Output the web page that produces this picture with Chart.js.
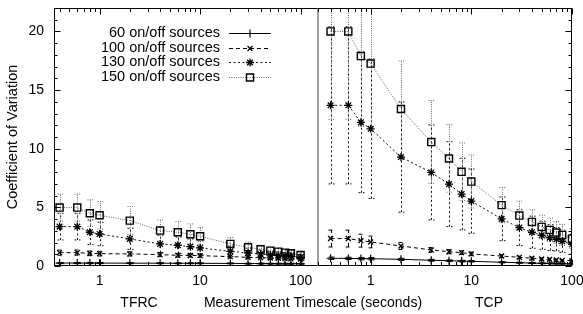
<!DOCTYPE html>
<html><head><meta charset="utf-8">
<script src="https://cdn.jsdelivr.net/npm/chart.js@4.4.1/dist/chart.umd.min.js"></script>
<style>
html,body{margin:0;padding:0;background:#fff;}
#wrap{position:relative;width:583px;height:314px;background:#fff;}
canvas{position:absolute;left:0;top:0;}
</style></head><body>
<div id="wrap"><canvas id="c1" width="583" height="314"></canvas><canvas id="c2" width="583" height="314"></canvas></div>
<script>
// ---------- data ----------
const timescales = [0.4,0.6,0.8,1,2,4,6,8,10,20,30,40,50,60,70,80,100];
const seriesNames = ['60 on/off sources','100 on/off sources','130 on/off sources','150 on/off sources'];
const panelNames = ['TFRC','TCP'];
const xAxisTitle = 'Measurement Timescale (seconds)';
const yAxisTitle = 'Coefficient of Variation';
const yTickValues = [0,5,10,15,20];
const xTickValues = [1,10,100];

const tfrc60     = [0.25,0.25,0.25,0.25,0.24,0.24,0.23,0.23,0.23,0.22,0.21,0.21,0.20,0.20,0.20,0.20,0.19];
const tfrc60Err  = [0.05,0.05,0.05,0.05,0.05,0.05,0.04,0.04,0.04,0.04,0.04,0.04,0.04,0.04,0.04,0.04,0.04];
const tfrc100    = [1.14,1.14,1.08,1.05,1.03,0.97,0.91,0.90,0.88,0.80,0.74,0.71,0.68,0.66,0.64,0.62,0.60];
const tfrc100Err = [0.22,0.22,0.20,0.20,0.18,0.17,0.16,0.15,0.15,0.13,0.12,0.11,0.10,0.10,0.10,0.10,0.09];
const tfrc130    = [3.36,3.36,2.88,2.73,2.31,1.88,1.77,1.65,1.54,1.25,1.11,1.03,0.94,0.90,0.87,0.85,0.74];
const tfrc130Err = [1.14,1.14,1.05,1.00,0.90,0.75,0.70,0.65,0.60,0.45,0.40,0.35,0.30,0.30,0.28,0.27,0.25];
const tfrc150    = [4.98,4.98,4.50,4.33,3.87,3.02,2.88,2.71,2.54,1.88,1.60,1.42,1.31,1.22,1.14,1.08,0.94];
const tfrc150Err = [1.15,1.15,1.14,1.17,1.20,0.90,0.90,0.88,0.73,0.54,0.45,0.35,0.30,0.28,0.27,0.26,0.25];

const tcp60      = [0.66,0.65,0.63,0.62,0.57,0.49,0.45,0.42,0.40,0.32,0.28,0.25,0.23,0.22,0.21,0.20,0.18];
const tcp60Err   = [0.10,0.10,0.10,0.10,0.09,0.08,0.07,0.07,0.06,0.05,0.05,0.04,0.04,0.04,0.04,0.04,0.04];
const tcp100     = [2.34,2.34,2.16,2.05,1.71,1.37,1.22,1.14,1.03,0.85,0.74,0.66,0.60,0.57,0.51,0.48,0.45];
const tcp100Err  = [0.72,0.72,0.55,0.50,0.30,0.20,0.18,0.16,0.15,0.12,0.10,0.10,0.09,0.09,0.08,0.08,0.08];
const tcp130     = [13.7,13.7,12.25,11.7,9.29,7.98,6.98,6.13,5.53,4.02,3.27,2.88,2.62,2.42,2.28,2.11,1.85];
const tcp130Err  = [6.7,6.7,6.0,5.95,4.7,4.05,3.62,3.05,2.74,1.86,1.53,1.37,1.20,1.10,1.00,0.95,0.85];
const tcp150     = [20.0,20.0,17.9,17.26,13.39,10.57,9.17,8.03,7.20,5.19,4.30,3.76,3.33,3.08,2.85,2.65,2.33];
const tcp150Err  = [7.5,7.5,6.0,5.5,4.1,3.53,2.88,2.46,2.26,1.50,1.23,1.03,1.00,1.00,0.94,0.90,0.85];

// ---------- styles ----------
const FONT = 'Liberation Sans, Arial, Helvetica, sans-serif';
const styles = [
  {color:'#000', dash:[],     point:'cross',    radius:4,   pw:1.2},
  {color:'#000', dash:[4,3],  point:'crossRot', radius:3.5, pw:1.3},
  {color:'#111', dash:[2,2.5],point:'star',     radius:4,   pw:1.3},
  {color:'#666', dash:[1,1.3],point:'rect',     radius:5,   pw:1.4}
];

function makeDatasets(vals, errs){
  return vals.map((v,si)=>({
    label: seriesNames[si],
    data: timescales.map((t,i)=>({x:t, y:v[i]})),
    errors: errs[si],
    borderColor: styles[si].color,
    borderDash: styles[si].dash,
    borderWidth: 1,
    pointStyle: styles[si].point,
    pointRadius: styles[si].radius,
    pointBorderColor: '#000',
    pointBackgroundColor: 'rgba(0,0,0,0)',
    pointBorderWidth: styles[si].pw,
    fill: false,
    tension: 0
  }));
}

Chart.defaults.font.family = FONT;
Chart.defaults.font.size = 14;
Chart.defaults.color = '#000';

function zeroPad(s){ s.paddingLeft=0; s.paddingRight=0; s.paddingTop=0; s.paddingBottom=0; }

const errorBars = {
  id:'errorBars',
  beforeDatasetsDraw(chart){
    const {ctx, chartArea:a, scales:{x,y}} = chart;
    ctx.save();
    ctx.beginPath(); ctx.rect(a.left, a.top, a.right-a.left, a.bottom-a.top); ctx.clip();
    chart.data.datasets.forEach(ds=>{
      ctx.strokeStyle = ds.borderColor; ctx.lineWidth = 1; ctx.setLineDash(ds.borderDash);
      ds.data.forEach((p,i)=>{
        const e = ds.errors[i];
        const px = Math.round(x.getPixelForValue(p.x))+0.5;
        const y1 = y.getPixelForValue(p.y-e), y2 = y.getPixelForValue(p.y+e);
        ctx.beginPath();
        ctx.moveTo(px,y1); ctx.lineTo(px,y2);
        ctx.moveTo(px-3,y1); ctx.lineTo(px+3,y1);
        ctx.moveTo(px-3,y2); ctx.lineTo(px+3,y2);
        ctx.stroke();
      });
    });
    ctx.restore();
  }
};

const frame = {
  id:'frame',
  afterDraw(chart, args, opts){
    const {ctx, chartArea:a, scales:{x,y}} = chart;
    ctx.save();
    ctx.lineWidth = 1; ctx.setLineDash([]);
    const L = a.left+0.5, R = a.right-0.5, T = a.top+0.5, B = a.bottom-0.5;
    // ticks
    ctx.strokeStyle = '#000';
    ctx.beginPath();
    [0.1,1,10,100].forEach(d=>{
      for(let k=1;k<10;k++){
        const v = k*d;
        if(v < x.min || v > x.max) continue;
        const px = Math.round(x.getPixelForValue(v))+0.5;
        const len = k===1 ? 6 : 3.5;
        ctx.moveTo(px,B); ctx.lineTo(px,B-len);
        ctx.moveTo(px,T); ctx.lineTo(px,T+len);
      }
    });
    for(let v=0; v<=y.max; v++){
      const py = Math.round(y.getPixelForValue(v))+0.5;
      const len = v%5===0 ? 6 : 3;
      if(opts.side==='left'){ ctx.moveTo(L,py); ctx.lineTo(L+len,py); }
      else { ctx.moveTo(R,py); ctx.lineTo(R-len,py); }
    }
    ctx.stroke();
    // border
    ctx.beginPath();
    ctx.moveTo(a.left,T); ctx.lineTo(a.right,T);
    ctx.moveTo(a.left,B); ctx.lineTo(a.right,B);
    if(opts.side==='left'){ ctx.moveTo(L,a.top); ctx.lineTo(L,a.bottom); }
    else { ctx.moveTo(R,a.top); ctx.lineTo(R,a.bottom); }
    ctx.stroke();
    if(opts.side==='left'){
      ctx.strokeStyle = '#808080'; ctx.lineWidth = 1.5;
      ctx.beginPath(); ctx.moveTo(a.right, a.top); ctx.lineTo(a.right, a.bottom); ctx.stroke();
    }
    ctx.restore();
  }
};

function drawMarker(ctx, st, cx, cy){
  if(Chart.helpers && Chart.helpers.drawPoint){
    ctx.strokeStyle = '#000'; ctx.fillStyle='rgba(0,0,0,0)'; ctx.lineWidth = st.pw; ctx.setLineDash([]);
    Chart.helpers.drawPoint(ctx, {pointStyle:st.point, radius:st.radius, rotation:0, borderWidth:st.pw}, cx, cy);
  }
}

const legendAndTitles = {
  id:'legendAndTitles',
  afterDraw(chart){
    const {ctx} = chart;
    ctx.save();
    ctx.fillStyle = '#000';
    ctx.font = '14.5px ' + FONT;
    ctx.textAlign = 'right'; ctx.textBaseline = 'middle';
    seriesNames.forEach((name,i)=>{
      const yy = 33 + i*14.5;
      ctx.fillStyle = '#000';
      ctx.fillText(name, 220, yy);
      const st = styles[i];
      ctx.strokeStyle = st.color; ctx.lineWidth = 1; ctx.setLineDash(st.dash);
      ctx.beginPath(); ctx.moveTo(229, Math.round(yy)+0.5); ctx.lineTo(271, Math.round(yy)+0.5); ctx.stroke();
      drawMarker(ctx, st, 250, Math.round(yy)+0.5);
    });
    ctx.setLineDash([]);
    ctx.fillStyle = '#000';
    ctx.font = '14px ' + FONT;
    ctx.textAlign = 'center';
    ctx.fillText(panelNames[0], 139, 303);
    ctx.fillText(xAxisTitle, 313, 303);
    ctx.fillText(panelNames[1], 489, 303);
    ctx.restore();
  }
};

function xScale(min, max){
  return {
    type:'logarithmic', min, max,
    grid:{display:false, drawTicks:false},
    border:{display:false},
    afterBuildTicks(s){ s.ticks = xTickValues.filter(v=>v>=min && v<=max).map(v=>({value:v})); },
    ticks:{autoSkip:false, maxRotation:0, padding:7, callback:(v)=>String(v), font:{size:14}},
    afterFit(s){ s.height = 48; zeroPad(s); }
  };
}

new Chart(document.getElementById('c1'), {
  type:'line',
  data:{datasets: makeDatasets([tfrc60,tfrc100,tfrc130,tfrc150],[tfrc60Err,tfrc100Err,tfrc130Err,tfrc150Err])},
  options:{
    responsive:false, animation:false, devicePixelRatio:1,
    layout:{padding:{top:8,right:265,bottom:0,left:0}},
    plugins:{legend:{display:false}, tooltip:{enabled:false}, frame:{side:'left'}},
    scales:{
      x: xScale(0.352,149),
      y:{type:'linear', min:0, max:22,
        grid:{display:false, drawTicks:false}, border:{display:false},
        afterBuildTicks(s){ s.ticks = yTickValues.map(v=>({value:v})); },
        ticks:{padding:10, font:{size:14}},
        title:{display:true, text:yAxisTitle, font:{size:14.5}, padding:{top:4,bottom:4}},
        afterFit(s){ s.width = 54; zeroPad(s); }
      }
    }
  },
  plugins:[errorBars, frame, legendAndTitles]
});

new Chart(document.getElementById('c2'), {
  type:'line',
  data:{datasets: makeDatasets([tcp60,tcp100,tcp130,tcp150],[tcp60Err,tcp100Err,tcp130Err,tcp150Err])},
  options:{
    responsive:false, animation:false, devicePixelRatio:1,
    layout:{padding:{top:8,right:11,bottom:0,left:318}},
    plugins:{legend:{display:false}, tooltip:{enabled:false}, frame:{side:'right'}},
    scales:{
      x: xScale(0.3,100),
      y:{type:'linear', min:0, max:22, display:false,
        afterBuildTicks(s){ s.ticks = yTickValues.map(v=>({value:v})); },
        afterFit(s){ s.width = 0; zeroPad(s); }
      }
    }
  },
  plugins:[errorBars, frame]
});
</script>
</body></html>
